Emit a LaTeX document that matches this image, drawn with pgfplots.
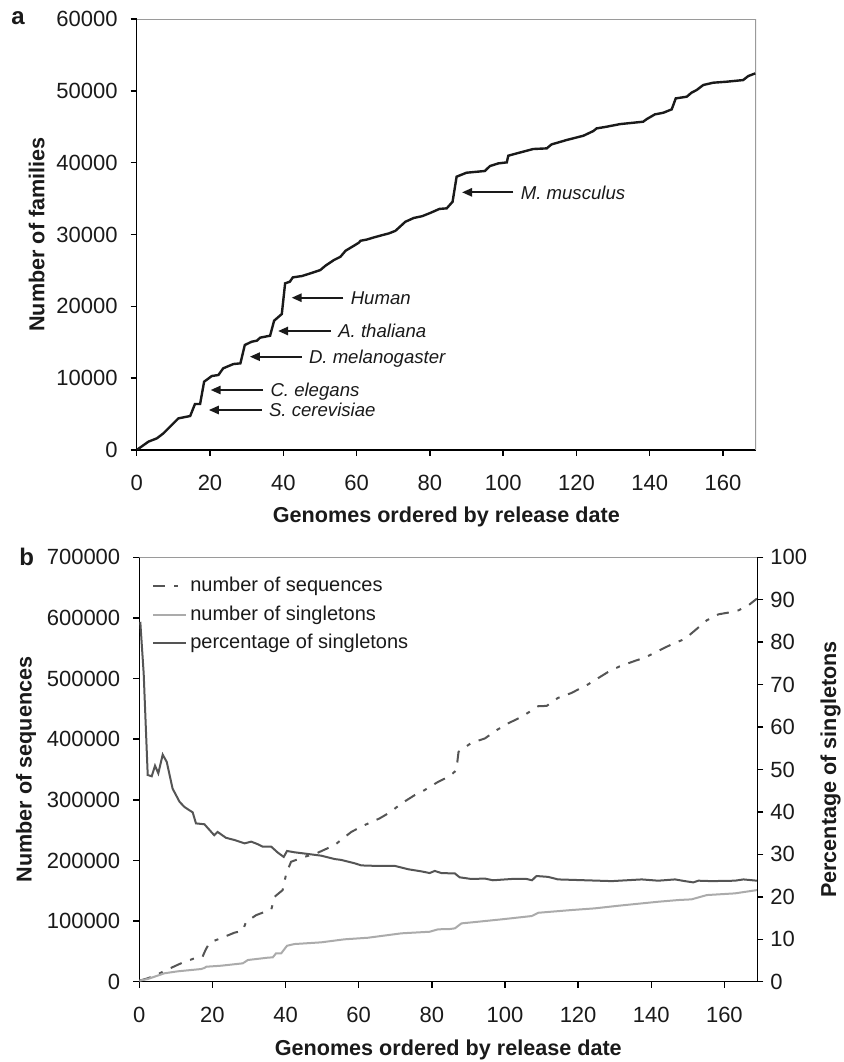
\documentclass[border=0pt]{standalone}
\usepackage{fontspec}
\setmainfont{Liberation Sans}
\usepackage{pgfplots}
\pgfplotsset{compat=1.18}
\usetikzlibrary{arrows.meta}

\definecolor{dk}{HTML}{555555}
\definecolor{lt}{HTML}{ABABAB}
\definecolor{fr}{HTML}{9A9A9A}
\definecolor{ink}{HTML}{1A1A1A}

\newcommand{\labfont}{\bfseries\fontsize{10.8}{13}\selectfont}

\pgfplotsset{
  base/.style={
    scale only axis,
    xmin=0, xmax=169,
    tick align=outside,
    major tick length=3pt,
    tick style={black, line width=0.7pt},
    axis line style={black, line width=0.75pt},
    tick label style={font=\fontsize{11}{13}\selectfont, text=ink},
    /pgf/number format/assume math mode=true,
    /pgf/number format/fixed,
    /pgf/number format/precision=0,
    /pgf/number format/1000 sep={},
    scaled ticks=false,
    xticklabel style={yshift=-6pt},
    yticklabel style={xshift=-3pt},
  },
}
\tikzset{
  anno/.style={font=\itshape\fontsize{9.3}{11}\selectfont, text=ink, anchor=west, inner sep=3.5pt, text height=6.7pt, text depth=0pt},
  arr/.style={-{Triangle[length=5pt,width=4.2pt]}, line width=0.85pt, ink},
}

\begin{document}
\begin{tikzpicture}
\path[use as bounding box] (0pt,0pt) rectangle (421.5pt,531pt);

% ---------- panel a ----------
\begin{axis}[base,
  at={(68.35pt,306pt)}, anchor=south west,
  width=309.65pt, height=215.5pt,
  axis x line*=bottom, axis y line*=left,
  ymin=0, ymax=60000,
  xtick={0,20,40,60,80,100,120,140,160},
  ytick={0,10000,20000,30000,40000,50000,60000},
  every axis x label/.style={at={(axis description cs:0.5,-0.1555)}, anchor=center, font=\labfont, text=ink},
  every axis y label/.style={at={(axis description cs:-0.1615,0.5)}, anchor=center, rotate=90, font=\labfont, text=ink},
  xlabel={Genomes ordered by release date},
  ylabel={Number of families},
]
\draw[fr, line width=0.6pt] (rel axis cs:0,1) -- (rel axis cs:1,1) -- (rel axis cs:1,0);
\addplot[ink, line width=1.2pt] coordinates {
(0,0) (3.2,1160) (5.5,1624) (7.3,2320) (9.1,3248) (11.4,4408) (14.6,4732) (15.9,6402) (17.3,6400)
(18.4,9510) (20.5,10300) (22.3,10440) (23.6,11370) (26.4,11970) (28.3,12060) (29.5,14616) (31.4,15080)
(32.8,15220) (33.7,15640) (36.4,15910) (37.5,18000) (39.6,18930) (40.5,23200) (41.8,23430) (42.6,24030)
(45.1,24220) (47.4,24590) (50.1,25050) (51.5,25650) (53.8,26440) (55.6,26900) (57.0,27740) (58.8,28290)
(60.6,28850) (61.1,29130) (62.9,29310) (64.7,29590) (67.0,29910) (68.8,30150) (70.6,30510) (72.0,31160)
(73.3,31770) (75.6,32300) (77.9,32550) (80.2,33020) (82.6,33560) (84.6,33640) (86.2,34560) (87.3,38050)
(90.0,38600) (95.0,38840) (96.4,39530) (98.7,39900) (101.0,40040) (101.4,40970) (103.7,41290) (108.2,41900)
(111.9,41990) (113.2,42540) (117.3,43150) (121.9,43750) (124.6,44400) (125.5,44770) (128.2,45000) (131.9,45370)
(138.2,45700) (139.2,46070) (141.4,46720) (143.7,46950) (146.0,47420) (147.1,48950) (150.1,49180) (151.4,49740)
(152.8,50110) (154.6,50810) (157.3,51130) (161.0,51270) (165.5,51500) (166.9,52060) (168.8,52430)
};
\draw[arr] (axis cs:56.4,21200) -- (axis cs:42.3,21200);
\node[anno] at (axis cs:56.4,21200) {Human};
\draw[arr] (axis cs:53.0,16565) -- (axis cs:38.6,16565);
\node[anno] at (axis cs:53.0,16565) {A. thaliana};
\draw[arr] (axis cs:45.0,12990) -- (axis cs:30.9,12990);
\node[anno] at (axis cs:45.0,12990) {D. melanogaster};
\draw[arr] (axis cs:34.5,8352) -- (axis cs:20.2,8352);
\node[anno] at (axis cs:34.5,8352) {C. elegans};
\draw[arr] (axis cs:34.1,5568) -- (axis cs:19.7,5568);
\node[anno] at (axis cs:34.1,5568) {S. cerevisiae};
\draw[arr] (axis cs:102.8,35870) -- (axis cs:88.8,35870);
\node[anno] at (axis cs:102.8,35870) {M. musculus};
\end{axis}

% ---------- panel b, left axis ----------
\begin{axis}[base,
  at={(69.65pt,40.15pt)}, anchor=south west,
  width=309pt, height=212.2pt,
  axis x line*=bottom, axis y line*=left,
  ymin=0, ymax=700000,
  xtick={0,20,40,60,80,100,120,140,160},
  ytick={0,100000,200000,300000,400000,500000,600000,700000},
  every axis x label/.style={at={(axis description cs:0.5,-0.161)}, anchor=center, font=\labfont, text=ink},
  every axis y label/.style={at={(axis description cs:-0.1833,0.5)}, anchor=center, rotate=90, font=\labfont, text=ink},
  xlabel={Genomes ordered by release date},
  ylabel={Number of sequences},
  legend style={at={(rel axis cs:0.0204,0.963)}, anchor=north west, draw=none, fill=none,
    font=\fontsize{10}{12}\selectfont, text=ink, inner sep=0pt, row sep=1.5pt,
    nodes={inner sep=1.5pt, text height=7.5pt, text depth=2.3pt}},
  legend cell align=left,
  legend image code/.code={\draw[#1] (0pt,0pt) -- (16.5pt,0pt);},
]
\draw[fr, line width=0.6pt] (rel axis cs:0,1) -- (rel axis cs:1,1);
\addplot[dk, line width=1pt, dash pattern=on 6pt off 4.5pt on 2pt off 4.5pt] coordinates {
(0,1650) (2.3,5600) (4.6,11000) (7.8,20400) (11.4,30300) (15.1,38600) (17.3,41200) (18.1,52200)
(19.2,64300) (23.3,74200) (26.0,80800) (28.3,84100) (29.2,98900) (32.0,109900) (36.1,119300) (37.0,140100)
(39.2,151100) (40.2,178700) (41.5,197800) (45.2,206000) (48.4,211600) (53.4,225300) (58.0,247200) (61.6,258300)
(65.7,269300) (68.5,279200) (71.7,294000) (75.3,307700) (78.0,316000) (81.7,329600) (84.9,339000) (86.7,348900)
(87.3,379100) (90.8,393900) (94.5,401200) (97.7,414900) (100.8,425900) (104.5,436800) (107.7,448900) (109.1,454400)
(111.4,454900) (114.5,468100) (118.2,476300) (122.8,490700) (128.2,510900) (131.4,520300) (135.5,529100) (138.3,534700)
(141.9,545600) (146.0,557700) (149.2,565300) (152.0,579700) (155.2,596100) (158.4,606000) (162.0,609800) (163.9,612600)
(166.6,620900) (168.9,631900)
};
\addlegendentry{number of sequences}
\addplot[lt, line width=1pt] coordinates {
(0,1650) (2.3,4450) (5.5,11000) (6.8,13800) (10.5,17100) (16.9,20900) (17.8,22600) (18.3,24700)
(22.4,26400) (28.3,30300) (29.7,35800) (35.1,39600) (36.5,40200) (37.4,46800) (38.8,46800) (40.4,59300)
(42.4,62100) (49.7,64900) (56.1,69900) (62.5,72500) (71.7,79800) (79.4,82400) (81.7,86400) (84.9,86900)
(86.3,88000) (88.1,96200) (92.6,98900) (99.0,102800) (107.3,108300) (109.1,113700) (118.2,118200) (124.6,121000)
(131.0,125300) (141.9,131900) (147.4,134700) (151.0,135800) (155.2,142900) (162.9,145700) (168.9,151100)
};
\addlegendentry{number of singletons}
\addlegendimage{dk, line width=1pt}
\addlegendentry{percentage of singletons}
\end{axis}

% ---------- panel b, right axis ----------
\begin{axis}[base,
  at={(69.65pt,40.15pt)}, anchor=south west,
  width=309pt, height=212.2pt,
  axis y line*=right, axis x line=none,
  ymin=0, ymax=100,
  ytick={0,10,20,30,40,50,60,70,80,90,100},
  yticklabel style={xshift=3pt},
  every axis y label/.style={at={(axis description cs:1.1186,0.5)}, anchor=center, rotate=90, font=\labfont, text=ink},
  ylabel={Percentage of singletons},
]
\addplot[dk, line width=1pt] coordinates {
(0.27,84.8) (1.2,72.6) (2.3,48.7) (3.4,48.4) (4.3,50.9) (5.2,49.1) (6.4,53.5) (7.5,51.8) (9.1,45.5)
(11.0,42.4) (12.3,41.2) (13.7,40.4) (14.6,39.9) (15.5,37.3) (17.8,37.1) (20.5,34.5) (21.4,35.3) (23.7,33.9)
(26.0,33.4) (28.8,32.6) (30.6,33.0) (32.4,32.4) (33.8,31.8) (36.1,31.8) (37.9,30.4) (39.5,29.4) (40.4,30.8)
(42.4,30.5) (46.1,30.1) (49.7,29.7) (53.4,28.9) (55.2,28.7) (58.9,27.9) (60.7,27.4) (64.3,27.3) (69.8,27.3)
(73.5,26.5) (77.1,26.0) (79.4,25.6) (80.8,26.1) (82.6,25.6) (86.3,25.5) (87.6,24.6) (90.8,24.2) (94.5,24.3)
(96.7,23.9) (101.8,24.2) (105.9,24.2) (107.4,23.9) (108.6,24.9) (111.8,24.7) (114.5,24.1) (121.9,23.9) (129.2,23.7)
(137.4,24.1) (141.9,23.8) (146.5,24.1) (149.2,23.7) (151.5,23.4) (152.9,23.8) (156.5,23.7) (162.9,23.8) (165.2,24.1)
(168.9,23.8)
};
\end{axis}

\node[font=\bfseries\fontsize{12}{14}\selectfont, text=ink] at (9pt,522pt) {a};
\node[font=\bfseries\fontsize{12}{14}\selectfont, text=ink] at (13.3pt,252.5pt) {b};
\end{tikzpicture}
\end{document}
